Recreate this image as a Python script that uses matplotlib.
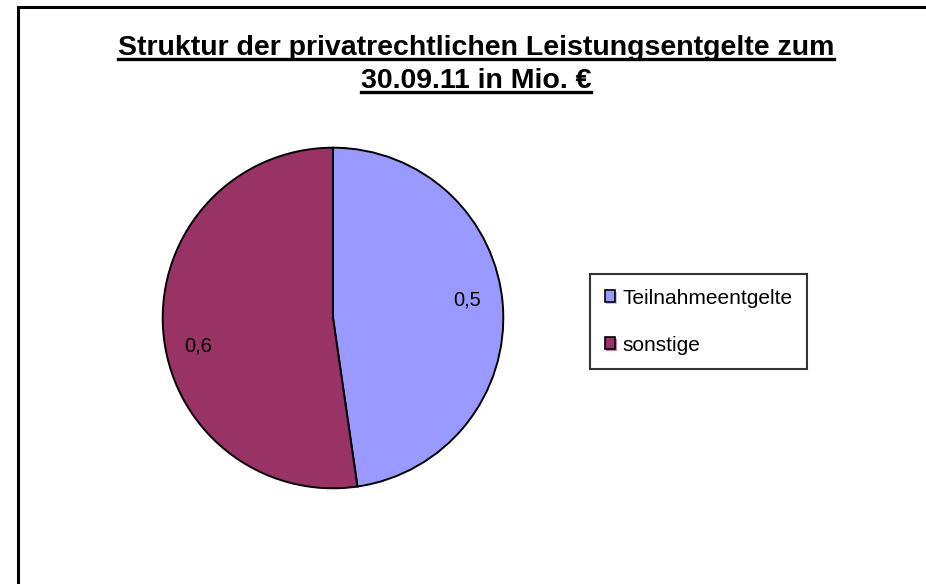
import matplotlib
matplotlib.use("Agg")
import numpy as np
import matplotlib.pyplot as plt
import matplotlib.patheffects as pe
from matplotlib.patches import Rectangle
from matplotlib.lines import Line2D

# data
labels = ["Teilnahmeentgelte", "sonstige"]
values = [0.52, 0.57]
colors = ["#9999FF", "#993366"]
title_lines = ["Struktur der privatrechtlichen Leistungsentgelte zum", "30.09.11 in Mio. €"]

plt.rcParams['font.family'] = ['Liberation Sans', 'DejaVu Sans']

fig = plt.figure(figsize=(9.26, 5.84), dpi=100)
W, H = 926, 584

# outer frame (right and bottom edges are cut off)
fig.patches.append(Rectangle((18 / W, -0.2), 1.2, 1.2 - 7 / H, transform=fig.transFigure,
                             fill=False, edgecolor="black", linewidth=2.2))

ax = fig.add_axes([(333 - 172) / W, (584 - 490) / H, 344 / W, 344 / H])
wedges, _ = ax.pie(values, colors=colors, startangle=90, counterclock=False,
                   wedgeprops=dict(edgecolor="black", linewidth=1.4))
# value labels, slightly turned like in the excel original
for w, v in zip(wedges, values):
    ang = np.deg2rad((w.theta1 + w.theta2) / 2 + 5.5)
    ax.text(0.8 * np.cos(ang), 0.8 * np.sin(ang) - 0.03, f"{v:.1f}".replace(".", ","),
            ha="center", va="center", fontsize=14.5)
ax.set_xlim(-1.01, 1.01)
ax.set_ylim(-1.01, 1.01)
ax.set_aspect("equal")

# title with underline
title_base = [55, 88]
fig.canvas.draw()
renderer = fig.canvas.get_renderer()
for line, yy in zip(title_lines, title_base):
    t = fig.text(476 / W, 1 - yy / H, line, ha="center", va="baseline",
                 fontsize=20.5, fontweight="bold")
    bb = t.get_window_extent(renderer)
    uy = 1 - (yy + 3.5) / H
    fig.lines.append(Line2D([bb.x0 / W, bb.x1 / W], [uy, uy], transform=fig.transFigure,
                            color="black", linewidth=2.4))

# legend
handles = [Rectangle((0, 0), 1, 1, facecolor=c, edgecolor="black", linewidth=1.2) for c in colors]
leg = fig.legend(handles, labels, loc="upper left",
                 bbox_to_anchor=(590 / W, 1 - 274 / H),
                 frameon=True, fancybox=False, fontsize=15,
                 handlelength=0.5, handleheight=0.5, handletextpad=0.35,
                 labelspacing=1.35, borderpad=0.7, borderaxespad=0)
leg.get_frame().set_edgecolor("black")
leg.get_frame().set_linewidth(1.5)
for p in leg.get_patches():
    p.set_path_effects([pe.SimplePatchShadow(offset=(1.2, -1.2), shadow_rgbFace=p.get_facecolor(), alpha=0.6), pe.Normal()])

fig.savefig("out.png", dpi=100)
